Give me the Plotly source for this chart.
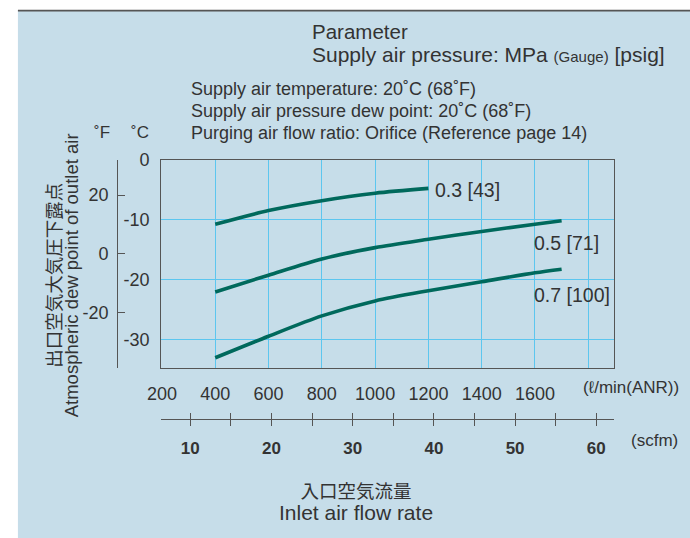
import plotly.graph_objects as go

W, H = 690, 538
# the page body keeps its default 8px margin, so layout positions are
# expressed in window pixels and shifted back by that amount
OFF = 8

# Inlet air flow rate (l/min ANR) and outlet dew point (deg C) per supply pressure
flow_03 = [400, 600, 800, 1000, 1200]
dew_03 = [-10.8, -8.5, -6.85, -5.6, -4.8]

flow_hi = [400, 600, 800, 1000, 1200, 1400, 1600, 1700]
dew_05 = [-22.1, -19.3, -16.6, -14.7, -13.3, -12.0, -10.8, -10.2]
dew_07 = [-33.1, -29.5, -26.1, -23.6, -21.9, -20.4, -18.9, -18.3]

curve_labels = ["0.3 [43]", "0.5 [71]", "0.7 [100]"]

# Axis tick values
flow_ticks = [200, 400, 600, 800, 1000, 1200, 1400, 1600, 1800]
flow_ticktext = ["200", "400", "600", "800", "1000", "1200", "1400", "1600", ""]
c_ticks = [0, -10, -20, -30]
c_ticktext = ["0", "-10", "-20", "-30"]
f_ticks = [20, 0, -20]
f_ticktext = ["20", "0", "-20"]
scfm_ticks = [10, 15, 20, 25, 30, 35, 40, 45, 50, 55, 60]
scfm_ticktext = ["10", "", "20", "", "30", "", "40", "", "50", "", "60"]

FONT = "Liberation Sans, Arial, sans-serif"
CJK = "Noto Sans CJK JP"
TXT = "#333333"
CURVE = "#00695c"
GRID = "#5cc6ef"
BG = "#c6dde9"
AXIS = "#555555"


def px(x):
    return (x - OFF) / W


def py(y):
    return 1 - (y - OFF) / H


fig = go.Figure()

for xs, ys in [(flow_03, dew_03), (flow_hi, dew_05), (flow_hi, dew_07)]:
    fig.add_trace(go.Scatter(
        x=xs, y=ys, mode="lines",
        line=dict(color=CURVE, width=3.6, shape="spline", smoothing=0.8),
        hoverinfo="skip", showlegend=False, xaxis="x", yaxis="y",
    ))

# empty traces so the auxiliary axes are rendered
fig.add_trace(go.Scatter(x=[], y=[], xaxis="x", yaxis="y2", showlegend=False))
fig.add_trace(go.Scatter(x=[], y=[], xaxis="x2", yaxis="y", showlegend=False))
fig.add_trace(go.Scatter(x=[], y=[], xaxis="x3", yaxis="y", showlegend=False))

scfm_dom = [px(158.6), px(616.4)]
scfm_pos = py(424.3)
scfm_range = [6.42, 62.13]

fig.update_layout(
    width=W, height=H,
    margin=dict(l=0, r=0, t=0, b=0),
    paper_bgcolor="white",
    plot_bgcolor="white",
    font=dict(family=FONT, color=TXT, size=16),
    xaxis=dict(
        domain=[px(158.3), px(620)], range=[197.4, 1895],
        tickvals=flow_ticks, ticktext=flow_ticktext,
        showgrid=True, gridcolor=GRID, gridwidth=1.2,
        showline=True, linecolor=AXIS, linewidth=1.2, mirror=True,
        ticks="", ticklabelstandoff=9, tickfont=dict(size=18),
        zeroline=False, anchor="y",
    ),
    yaxis=dict(
        domain=[py(372.7), py(160.5)], range=[-34.8, 0],
        tickvals=c_ticks, ticktext=c_ticktext,
        showgrid=True, gridcolor=GRID, gridwidth=1.2,
        showline=True, linecolor=AXIS, linewidth=1.2, mirror=True,
        ticks="", ticklabelstandoff=7, tickfont=dict(size=18),
        zeroline=False, anchor="x",
    ),
    yaxis2=dict(
        overlaying="y", anchor="free", position=px(113.3), side="left",
        domain=[py(376.7), py(161.7)], range=[-38.9, 32.1],
        tickvals=f_ticks, ticktext=f_ticktext, showgrid=False, zeroline=False,
        showline=True, linecolor=AXIS, linewidth=1.2,
        ticks="inside", ticklen=7, tickcolor=AXIS, tickwidth=1.2,
        ticklabelstandoff=5, tickfont=dict(size=18),
    ),
    xaxis2=dict(
        overlaying="x", anchor="free", position=scfm_pos, side="bottom",
        domain=scfm_dom, range=scfm_range,
        tickvals=scfm_ticks, ticktext=scfm_ticktext,
        showgrid=False, zeroline=False,
        showline=True, linecolor=AXIS, linewidth=1.2,
        ticks="outside", ticklen=6, tickcolor=AXIS, tickwidth=1.2,
        ticklabelstandoff=8, tickfont=dict(size=17, weight="bold"),
    ),
    xaxis3=dict(
        overlaying="x", anchor="free", position=scfm_pos, side="bottom",
        domain=scfm_dom, range=scfm_range,
        tickvals=scfm_ticks, showticklabels=False,
        showgrid=False, zeroline=False, showline=False,
        ticks="inside", ticklen=6, tickcolor=AXIS, tickwidth=1.2,
    ),
)

# panel background and top rule
fig.add_shape(type="rect", xref="paper", yref="paper", layer="below",
              x0=px(12), x1=1, y0=0, y1=1, fillcolor=BG, line_width=0)
fig.add_shape(type="line", xref="paper", yref="paper",
              x0=px(12), x1=1, y0=0.999, y1=0.999,
              line=dict(color=AXIS, width=1.8))


def note(text, x, y, size=16, xanchor="left", **kw):
    fig.add_annotation(text=text, x=px(x), y=py(y), xref="paper", yref="paper",
                       showarrow=False, xanchor=xanchor, yanchor="middle",
                       font=dict(size=size, family=kw.pop("family", FONT), color=TXT),
                       **kw)


note("Parameter", 310, 30, size=20.5)
note("Supply air pressure: MPa <span style='font-size:15px'>(Gauge)</span> [psig]",
     310, 53.5, size=21)
note("Supply air temperature: 20˚C (68˚F)", 187, 89, size=18)
note("Supply air pressure dew point: 20˚C (68˚F)", 187, 111, size=18)
note("Purging air flow ratio: Orifice (Reference page 14)", 187, 133, size=18)
note("˚F", 98, 133, size=17, xanchor="center")
note("˚C", 137, 133, size=17, xanchor="center")

# curve labels
label_font = dict(size=19.5, family=FONT, color=TXT)
fig.add_annotation(text=curve_labels[0], x=flow_03[-1], y=dew_03[-1], xref="x", yref="y",
                   showarrow=False, xanchor="left", yanchor="middle", xshift=5, yshift=-2,
                   font=label_font)
fig.add_annotation(text=curve_labels[1], x=flow_hi[-1], y=dew_05[-1], xref="x", yref="y",
                   showarrow=False, xanchor="left", yanchor="middle", xshift=-30, yshift=-22,
                   font=label_font)
fig.add_annotation(text=curve_labels[2], x=flow_hi[-1], y=dew_07[-1], xref="x", yref="y",
                   showarrow=False, xanchor="left", yanchor="middle", xshift=-30, yshift=-26,
                   font=label_font)

note("(ℓ/min(ANR))", 587, 393, size=17)
note("(scfm)", 636, 447, size=17)

note("出口空気大気圧下露点", 48, 278.5, size=18.5, xanchor="center", textangle=-90,
     family=CJK)
note("Atmospheric dew point of outlet air", 67, 278.5, size=18.5, xanchor="center",
     textangle=-90)

# two-line x-axis title (Japanese over English)
note(f"<span style='font-family:{CJK};font-size:18.5px'>入口空気流量</span><br>"
     "<span style='font-size:21px'>Inlet air flow rate</span>",
     357, 508, size=17, xanchor="center", align="center")

fig.write_html("out.html")
